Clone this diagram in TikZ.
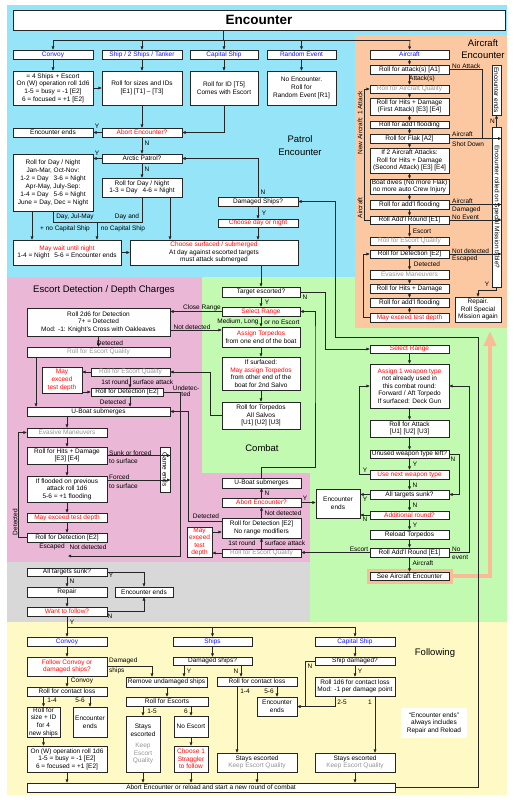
\documentclass[tikz,border=0pt]{standalone}
\usepackage{fontspec}
\setmainfont{Liberation Sans}
\usetikzlibrary{arrows.meta,calc}
\definecolor{cblue}{RGB}{150,228,247}
\definecolor{cpeach}{RGB}{252,200,162}
\definecolor{cpeachl}{RGB}{250,188,150}
\definecolor{cpink}{RGB}{234,183,214}
\definecolor{cgreen}{RGB}{195,250,178}
\definecolor{cgray}{RGB}{216,216,216}
\definecolor{cyel}{RGB}{255,250,197}
\definecolor{tred}{RGB}{255,10,10}
\definecolor{tblue}{RGB}{20,20,255}
\definecolor{tgrey}{RGB}{150,150,150}
\newcommand\myfs{\fontsize{6.5}{7.6}\selectfont}
\newcommand\bigfs{\fontsize{9.5}{12.5}\selectfont}
\newcommand\rtxt[1]{\textcolor{tred}{#1}}
\newcommand\gtxt[1]{\textcolor{tgrey}{#1}}
\newcommand\bx[7][]{\pgfmathsetmacro\bxw{#5-#3}\pgfmathsetmacro\bxh{#6-#4}%
  \node[bx,minimum width=\bxw pt,minimum height=\bxh pt,#1] (#2) at ({(#3+#5)/2},{(#4+#6)/2}) {#7};}
\newcommand\rbx[7][]{\pgfmathsetmacro\bxw{#5-#3}\pgfmathsetmacro\bxh{#6-#4}%
  \node[bx,rotate=-90,minimum width=\bxh pt,minimum height=\bxw pt,#1] (#2) at ({(#3+#5)/2},{(#4+#6)/2}) {#7};}
\newcounter{lbc}
\newcommand\lab[3][]{\stepcounter{lbc}\node[lb,#1] (lab\thelbc) at (#2) {#3};}
\begin{document}
\begin{tikzpicture}[x=1pt,y=-1pt,
  bx/.style={draw=black!85,fill=white,line width=0.7pt,inner sep=0pt,align=center,font=\myfs},
  lb/.style={inner sep=0pt,font=\myfs,align=center},
  arr/.style={-{Triangle[length=3.2pt,width=2.8pt]},line width=0.6pt,draw=black!85},
  ln/.style={line width=0.6pt,draw=black!85}]
\useasboundingbox (0,0) rectangle (521,800);
\fill[white] (0,0) rectangle (521,800);
% backgrounds
\fill[cblue] (7,5) rectangle (507,277);
\fill[cgreen] (202,277) rectangle (507,622);
\fill[cpink] (7,277) rectangle (202,562);
\fill[cpink] (202,473) rectangle (310,562);
\fill[cgray] (7,562) rectangle (310,622);
\fill[cyel] (7,622) rectangle (507,795);
\fill[cpeach] (355,35) rectangle (507,328);
% section titles
\lab[font=\bigfs]{300,145.5}{Patrol\\Encounter}
\lab[font=\bigfs]{483,49}{Aircraft\\Encounter}
\lab[font=\bigfs]{104,290}{Escort Detection / Depth Charges}
\lab[font=\bigfs]{262,448}{Combat}
\lab[font=\bigfs]{435,653}{Following}
% ================= Patrol encounter
\bx[font=\fontsize{13.5}{15}\selectfont\bfseries]{title}{13}{10}{505}{30}{Encounter}
\bx[text=tblue]{cvy}{13}{50}{93}{59}{Convoy}
\bx[text=tblue]{shp}{102}{50}{182}{59}{Ship / 2 Ships / Tanker}
\bx[text=tblue]{cap}{190}{50}{258}{59}{Capital Ship}
\bx[text=tblue]{rnd}{267}{50}{336}{59}{Random Event}
\bx{cvyd}{13}{71}{93}{105}{= 4 Ships + Escort\\On (W) operation roll 1d6\\1-5 = busy = -1 [E2]\\6 = focused = +1 [E2]}
\bx{shpd}{102}{71}{182}{105}{Roll for sizes and IDs\\{}[E1] [T1] -- [T3]}
\bx{capd}{190}{71}{258}{105}{Roll for ID [T5]\\Comes with Escort}
\bx{rndd}{267}{71}{336}{105}{No Encounter.\\Roll for\\Random Event [R1]}
\bx{ends1}{13}{128}{93}{137}{Encounter ends}
\bx[text=tred]{abort1}{102}{128}{182}{137}{Abort Encounter?}
\bx{arctic}{102}{154}{182}{163}{Arctic Patrol?}
\bx[font=\fontsize{6.5}{8}\selectfont]{dn1}{13}{154}{93}{211}{Roll for Day / Night\\Jan-Mar, Oct-Nov:\\1-2 = Day\hspace{5pt}3-6 = Night\\Apr-May, July-Sep:\\1-4 = Day\hspace{5pt}5-6 = Night\\June = Day, Dec = Night}
\bx{dn2}{102}{178}{182}{197}{Roll for Day / Night\\1-3 = Day\hspace{5pt}4-6 = Night}
\bx{wait}{13}{240}{121}{265}{\rtxt{May wait until night}\\1-4 = Night\hspace{5pt}5-6 = Encounter ends}
\bx{surf}{130}{240}{298}{265}{\rtxt{Choose surfaced / submerged}\\At day against escorted targets\\must attack submerged}
\bx{dmg}{218}{197}{298}{206}{Damaged Ships?}
\bx[text=tred]{cdn}{218}{219}{298}{227}{Choose day or night}
\coordinate (tb) at (223,40);
\draw[ln] (title.south -| tb) -- (tb);
\draw[ln] (cvy.north |- tb) -- (410,40);
\draw[arr] (cvy.north |- tb) -- (cvy.north);
\draw[arr] (shp.north |- tb) -- (shp.north);
\draw[arr] (cap.north |- tb) -- (cap.north);
\draw[arr] (rnd.north |- tb) -- (rnd.north);
\draw[arr] (cvy.south) -- (cvyd.north);
\draw[arr] (shp.south) -- (shpd.north);
\draw[arr] (cap.south) -- (capd.north);
\draw[arr] (rnd.south) -- (rndd.north);
\draw[arr] (cvyd.east) -- (shpd.west);
\draw[arr] (shpd.south) -- (abort1.north);
\draw[arr] (capd.south) |- (abort1.east);
\draw[arr] (abort1.west) -- (ends1.east);
\draw[arr] (abort1.south) -- (arctic.north);
\draw[arr] (arctic.west) -- (dn1.east |- arctic.west);
\draw[arr] (arctic.south) -- (dn2.north);
\draw[arr] (dmg.north) |- (arctic.east);
\draw[arr] (dmg.south) -- (cdn.north);
\draw[arr] (cdn.south) -- (surf.north -| cdn.south);
\draw[arr] (dn1.south -| 32,0) -- (wait.north -| 32,0);
\coordinate (dj) at (97,222);
\draw[ln] (dn1.south -| 53,0) |- (dj);
\draw[ln] (dn2.south) |- (dj);
\draw[arr] (dj) -- (wait.north -| dj);
\draw[arr] (dn2.south -| 170,0) -- (surf.north -| 170,0);
\draw[arr] (wait.east) -- (surf.west);
\lab{97,126}{Y}
\lab{147,143}{N}
\lab{97,153}{Y}
\lab{147,169}{N}
\lab{263,192}{N}
\lab{264,213}{Y}
\lab{75,217}{Day, Jul-May}
\lab{65,229}{+ no Capital Ship}
\lab{127,217}{Day and}
\lab{123,229}{no Capital Ship}
% ================= Aircraft encounter
\bx[text=tblue]{air}{370}{50}{449}{59}{Aircraft}
\bx{a1}{370}{65}{449}{74}{Roll for attack(s) [A1]}
\bx[text=tgrey]{aq}{370}{85}{449}{93}{Roll for Aircraft Quality}
\bx{ah1}{370}{98}{449}{115}{Roll for Hits + Damage\\(First Attack) [E3] [E4]}
\bx{af1}{370}{121}{449}{128}{Roll for add'l flooding}
\bx{flak}{370}{134}{449}{143}{Roll for Flak [A2]}
\bx{ah2}{370}{148}{449}{173}{If 2 Aircraft Attacks:\\Roll for Hits + Damage\\(Second Attack) [E3] [E4]}
\bx{dive}{370}{179}{449}{194}{Boat dives (No more Flak)\\no more auto Crew Injury}
\bx{af2}{370}{200}{449}{209}{Roll for add'l flooding}
\bx{ar}{370}{216}{449}{224}{Roll Add'l Round [E1]}
\bx[text=tgrey]{aeq}{370}{237}{449}{245}{Roll for Escort Quality}
\bx{adet}{370}{250}{449}{258}{Roll for Detection [E2]}
\bx[text=tgrey]{aev}{370}{270}{449}{279}{Evasive Maneuvers}
\bx{ahd}{370}{284}{449}{293}{Roll for Hits + Damage}
\bx{af3}{370}{298}{449}{307}{Roll for add'l flooding}
\bx[text=tred]{aex}{370}{313}{449}{322}{May exceed test depth}
\rbx{spec}{492}{127}{501}{287}{Encounter rolled on Special Mission table?}
\rbx{aends}{492}{65}{501}{115}{Encounter ends}
\bx{rep}{455}{297}{501}{322}{Repair.\\Roll Special\\Mission again}
\draw[arr] (410,40) -- (air.north);
\foreach \a/\b in {air/a1,a1/aq,aq/ah1,ah1/af1,af1/flak,flak/ah2,ah2/dive,dive/af2,af2/ar,ar/aeq,aeq/adet,adet/aev,aev/ahd,ahd/af3,af3/aex}
  \draw[arr] (\a.south) -- (\b.north);
\draw[ln] (a1.east) -| (482,138.5);
\draw[arr] (flak.east) -- (flak.east -| spec.north);
\draw[arr] (af2.east) -- (af2.east -| spec.north);
\draw[arr] (ar.east) -- (ar.east -| spec.north);
\draw[arr] (adet.east) -- (adet.east -| spec.north);
\draw[arr] (ar.west) -- ++(-5,0) |- (aq.west);
\draw[arr] (aex.west) -- ++(-6,0) |- (adet.west);
\draw[arr] (spec.west) -- (aends.east);
\draw[arr] (spec.east) -- ++(0,3) -| (rep.north);
\lab[anchor=west]{452,66}{No Attack}
\lab{422,79}{Attack(s)}
\lab[anchor=west]{452,134}{Aircraft}
\lab[anchor=west]{452,144}{Shot Down}
\lab[anchor=west]{452,201}{Aircraft}
\lab[anchor=west]{452,209.5}{Damaged}
\lab[anchor=west]{452,217}{No Event}
\lab{422,231}{Escort}
\lab[anchor=west]{452,251}{Not detected}
\lab[anchor=west]{452,258.5}{Escaped}
\lab{427,264.5}{Detected}
\lab[anchor=east]{495,121}{N}
\lab{487,284}{Y}
\lab[rotate=90]{360,123}{New Aircraft: 1 Attack}
\lab[rotate=90]{360,208}{Aircraft}
% ================= Combat (green)
\bx{tesc}{222}{287}{300}{297}{Target escorted?}
\bx[text=tred]{selc}{222}{307}{300}{316}{Select Range}
\bx{assign}{222}{327}{300}{347}{\rtxt{Assign Torpedos}\\from one end of the boat}
\bx{ifs}{222}{357}{300}{390}{If surfaced:\\\rtxt{May assign Torpedos}\\from other end of the\\boat for 2nd Salvo}
\bx{tor}{222}{402}{300}{429}{Roll for Torpedos\\All Salvos\\{}[U1] [U2] [U3]}
\bx[text=tred]{selr}{370}{345}{449}{353}{Select Range}
\bx{aw}{370}{364}{449}{408}{\rtxt{Assign 1 weapon type}\\not already used in\\this combat round:\\Forward / Aft Torpedo\\If surfaced: Deck Gun}
\bx{ra}{370}{420}{449}{437}{Roll for Attack\\{}[U1] [U2] [U3]}
\bx{uw}{370}{450}{449}{458}{Unused weapon type left?}
\bx[text=tred]{un}{370}{470}{449}{479}{Use next weapon type}
\bx{ats2}{370}{490}{449}{499}{All targets sunk?}
\bx[text=tred]{add}{370}{511}{449}{519}{Additional round?}
\bx{rel}{370}{530}{449}{539}{Reload Torpedos}
\bx{ar2}{370}{548}{449}{557}{Roll Add'l Round [E1]}
\draw[cpeachl,line width=3pt] (368,570) rectangle (451,582);
\bx{see}{370}{572}{449}{580}{See Aircraft Encounter}
\draw[cpeachl,line width=4pt,-{Triangle[width=12pt,length=15pt]}] (452,575.5) -- (490,575.5) -- (490,331);
\draw[arr] (surf.south -| tesc.north) -- (tesc.north);
\foreach \a/\b in {tesc/selc,selc/assign,assign/ifs,ifs/tor,selr/aw,aw/ra,ra/uw,uw/un,un/ats2,ats2/add,add/rel,rel/ar2,ar2/see}
  \draw[arr] (\a.south) -- (\b.north);
\draw[arr] (tesc.east) -- (325,292) |- (selr.west);
\draw[arr] (uw.east) -- ++(10,0) |- (ats2.east);
\draw[arr] (un.west) -- ++(-10,0) |- (aw.west);
\draw[arr] (ar2.east) -- ++(20,0) |- (aw.east);
\lab{267,302}{Y}
\lab{305,297.5}{N}
\lab{238,322}{Medium, Long}
\lab{282,322}{or no Escort}
\lab{453,459.5}{N}
\lab{415,464}{Y}
\lab{415,485}{N}
\lab{365,470}{Y}
\lab{365,499}{Y}
\lab{415,505}{N}
\lab{365,519}{N}
\lab{415,525}{Y}
\lab{359,549}{Escort}
\lab[anchor=west]{452,549}{No}
\lab[anchor=west]{452,557}{event}
\lab{423,563}{Aircraft}
% ================= Escort detection (pink)
\bx{det2d6}{27}{308}{170}{336}{Roll 2d6 for Detection\\7+ = Detected\\Mod: -1: Knight's Cross with Oakleaves}
\bx[text=tgrey]{eq1}{27}{347}{170}{357}{Roll for Escort Quality}
\bx[text=tgrey]{eq2}{91}{368}{170}{376}{Roll for Escort Quality}
\bx[text=tred]{mx1}{42}{367}{82}{393}{May\\exceed\\test depth}
\bx{det1}{91}{388}{163}{396}{Roll for Detection [E2]}
\bx{sub1}{27}{407}{170}{416}{U-Boat submerges}
\bx[text=tgrey]{ev}{27}{428}{107}{437}{Evasive Maneuvers}
\bx{hd}{27}{447}{107}{464}{Roll for Hits + Damage\\{}[E3] [E4]}
\bx{fl}{27}{476}{107}{502}{If flooded on previous\\attack roll 1d6\\5-6 = +1 flooding}
\bx[text=tred]{mx2}{27}{513}{107}{522}{May exceed test depth}
\bx{det3}{27}{533}{107}{542}{Roll for Detection [E2]}
\rbx{game}{160}{447}{170}{492}{Game ends}
\bx{sub2}{222}{478}{301}{488}{U-Boat submerges}
\bx[text=tred]{ab2}{222}{498}{301}{507}{Abort Encounter?}
\bx{det4}{222}{518}{301}{538}{Roll for Detection [E2]\\No range modifiers}
\bx[text=tred,font=\fontsize{6.5}{7.3}\selectfont]{mx3}{187}{527}{212}{557}{May\\exceed\\test\\depth}
\bx[text=tgrey]{eq3}{222}{549}{301}{557}{Roll for Escort Quality}
\bx{ends2}{316}{489}{360}{518}{Encounter\\ends}
\draw[arr] (selc.west) -- (det2d6.east |- selc.west);
\draw[arr] (det2d6.east |- 0,330) -- (assign.west |- 0,330);
\draw[arr] (det2d6.south) -- (eq1.north);
\draw[arr] (eq1.south -| 36,0) -- (sub1.north -| 36,0);
\draw[arr] (tor.west) -- ++(-11,0) |- (eq2.east);
\draw[arr] (eq2.west) -- (mx1.east |- eq2.west);
\draw[arr] (mx1.east |- det1.west) -- (det1.west);
\draw[arr] (eq2.south -| 130,0) -- (det1.north -| 130,0);
\draw[arr] (det1.south -| 130,0) -- (sub1.north -| 130,0);
\draw[arr] (det1.east) -- (180,392) -- (180,556) -- (68,556);
\draw[arr] (sub1.south -| ev.north) -- (ev.north);
\foreach \a/\b in {ev/hd,hd/fl,fl/mx2,mx2/det3}
  \draw[arr] (\a.south) -- (\b.north);
\draw[arr] (hd.east) -- (game.north |- hd.east);
\draw[arr] (fl.east |- 0,480) -- (game.north |- 0,480);
\draw[arr] (det3.west) -- ++(-8,0) |- (ev.west);
\draw[arr] (det4.west |- 0,521) -- (188,521) |- (sub1.east);
\draw[arr] (eq3.west) -- (mx3.east |- eq3.west);
\draw[arr] (mx3.east |- 0,532) -- (det4.west |- 0,532);
\draw[arr] (eq3.north) -- (det4.south);
\draw[arr] (det4.north) -- (ab2.south);
\draw[arr] (ab2.north) -- (sub2.south);
\draw[arr] (ab2.east) -- (ends2.west |- ab2.east);
\draw[arr] (sub2.north) -- ++(0,-10) -| (315,340) |- (selc.east);
\draw[arr] (ar2.west) -- (eq3.east |- ar2.west);
\draw[arr] (ats2.west) -- (ends2.east |- ats2.west);
\draw[arr] (add.west) -- (ends2.east |- add.west);
\lab{202,308}{Close Range}
\lab{192,327}{Not detected}
\lab{110,343}{Detected}
\lab{115,382}{1st round}
\lab{153,382}{surface attack}
\lab[font=\fontsize{6.5}{6.5}\selectfont]{186,391}{Undetec-\\ted}
\lab{113,402}{Detected}
\lab[rotate=90]{15,522}{Detected}
\lab[anchor=west]{109,453}{Sunk or forced}
\lab[anchor=west]{109,461}{to surface}
\lab[anchor=west]{109,477}{Forced}
\lab[anchor=west]{109,486}{to surface}
\lab{52,547}{Escaped}
\lab{88,547}{Not detected}
\lab{267,493}{N}
\lab{283,513}{Not detected}
\lab{206,516}{Detected}
\lab{242,543}{1st round}
\lab{285,543}{surface attack}
\lab{305,498}{Y}
% ================= Gray
\bx{ats1}{27}{568}{107}{576}{All targets sunk?}
\bx{rep1}{27}{587}{107}{597}{Repair}
\bx{ends3}{115}{587}{173}{597}{Encounter ends}
\bx[text=tred]{want}{27}{607}{107}{616}{Want to follow?}
\draw[arr] (ats1.south) -- (rep1.north);
\draw[arr] (rep1.south) -- (want.north);
\draw[arr] (ats1.east) -| (ends3.north);
\draw[arr] (want.east) -| (ends3.south);
\lab{111,575}{Y}
\lab{72,581}{N}
\lab{110,616}{N}
\lab{72,622}{Y}
% ================= Following
\bx[text=tblue]{fcvy}{27}{637}{107}{646}{Convoy}
\bx[text=tblue]{fshp}{173}{637}{252}{646}{Ships}
\bx[text=tblue]{fcap}{315}{637}{395}{646}{Capital Ship}
\bx[text=tred]{fol}{27}{657}{107}{676}{Follow Convoy or\\damaged ships?}
\bx{cl1}{27}{687}{107}{696}{Roll for contact loss}
\bx{nsh}{27}{707}{60}{737}{Roll for\\size + ID\\for 4\\new ships}
\bx{ends4}{73}{707}{107}{737}{Encounter\\ends}
\bx{onw}{27}{746}{107}{772}{On (W) operation roll 1d6\\1-5 = busy = -1 [E2]\\6 = focused = +1 [E2]}
\bx{rem}{126}{677}{207}{687}{Remove undamaged ships}
\bx{resc}{126}{697}{208}{706}{Roll for Escorts}
\bx{stay1}{126}{716}{160}{772}{Stays\\escorted\\[4pt]\gtxt{Keep}\\\gtxt{Escort}\\\gtxt{Quality}}
\bx{noesc}{174}{716}{208}{737}{No Escort}
\bx[text=tred]{strag}{174}{746}{208}{772}{Choose 1\\Straggler\\to follow}
\bx{dmg2}{173}{657}{252}{665}{Damaged ships?}
\bx{cl2}{217}{677}{297}{686}{Roll for contact loss}
\bx{ends5}{257}{697}{297}{716}{Encounter\\ends}
\bx{stay2}{217}{753}{297}{772}{Stays escorted\\\gtxt{Keep Escort Quality}}
\bx{sdmg}{315}{657}{395}{665}{Ship damaged?}
\bx{cl3}{315}{677}{395}{696}{Roll 1d6 for contact loss\\Mod: -1 per damage point}
\bx{stay3}{315}{753}{395}{772}{Stays escorted\\\gtxt{Keep Escort Quality}}
\bx{bar}{27}{783}{395}{792}{Abort Encounter or reload and start a new round of combat}
\node[fill=white,inner sep=0pt,minimum width=66pt,minimum height=30pt,align=center,font=\myfs] (note) at (434,723) {``Encounter ends''\\always includes\\Repair and Reload};
\coordinate (hy) at (0,627);
\draw[ln] (want.south) -- (want.south |- hy) -- (fcap.north |- hy);
\draw[arr] (fcvy.north |- hy) -- (fcvy.north);
\draw[arr] (fshp.north |- hy) -- (fshp.north);
\draw[arr] (fcap.north |- hy) -- (fcap.north);
\draw[arr] (fcvy.south) -- (fol.north);
\draw[arr] (fol.south) -- (cl1.north);
\draw[arr] (cl1.south -| nsh.north) -- (nsh.north);
\draw[arr] (cl1.south -| ends4.north) -- (ends4.north);
\draw[arr] (nsh.south) -- (onw.north -| nsh.south);
\draw[arr] (onw.south) -- (bar.north -| onw.south);
\draw[arr] (fol.east) -| (rem.north -| 152,0);
\draw[arr] (rem.south -| resc.north) -- (resc.north);
\draw[arr] (resc.south -| stay1.north) -- (stay1.north);
\draw[arr] (resc.south -| noesc.north) -- (noesc.north);
\draw[arr] (noesc.south) -- (strag.north);
\draw[arr] (stay1.south) -- (bar.north -| stay1.south);
\draw[arr] (strag.south) -- (bar.north -| strag.south);
\draw[arr] (fshp.south) -- (dmg2.north);
\draw[arr] (dmg2.south -| 184,0) -- (rem.north -| 184,0);
\draw[arr] (dmg2.south -| 241,0) -- (cl2.north -| 241,0);
\draw[arr] (cl2.south -| 237,0) -- (stay2.north -| 237,0);
\draw[arr] (cl2.south -| ends5.north) -- (ends5.north);
\draw[arr] (stay2.south) -- (bar.north -| stay2.south);
\draw[arr] (fcap.south) -- (sdmg.north);
\draw[arr] (sdmg.south) -- (cl3.north);
\draw[arr] (sdmg.west) -- (305,661) |- (ends5.east);
\draw[ln] (cl3.south -| 335,0) |- (305,706.5);
\draw[arr] (cl3.south -| 375,0) -- (stay3.north -| 375,0);
\draw[arr] (stay3.south) -- (bar.north -| stay3.south);
\draw[arr] (bar.east) -- (478,787.5) -- (478,337) -- (335,337) |- (dmg.east);
\lab{82,681}{Convoy}
\lab[anchor=west]{109,661}{Damaged}
\lab[anchor=west]{109,671}{ships}
\lab{52,700}{1-4}
\lab{80,700}{5-6}
\lab{152,711}{1-5}
\lab{186,711}{6}
\lab{189,671}{Y}
\lab{236,671}{N}
\lab{245,691}{1-4}
\lab{269,691}{5-6}
\lab{310,666}{N}
\lab{360,671}{Y}
\lab{342,702}{2-5}
\lab{370,702}{1}
\end{tikzpicture}
\end{document}
